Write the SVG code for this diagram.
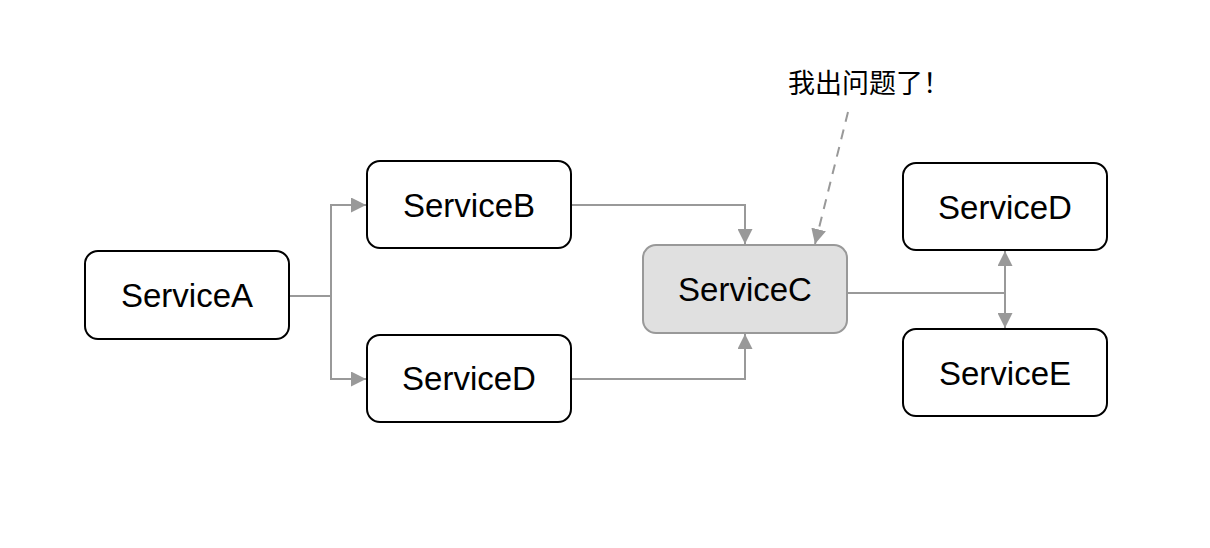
<svg xmlns="http://www.w3.org/2000/svg" width="1210" height="548" viewBox="0 0 1210 548">
<style>
.node{fill:#fff;stroke:#000;stroke-width:2}
.hl{fill:#e0e0e0;stroke:#999;stroke-width:2}
.lbl{font-family:"Liberation Sans",Arial,sans-serif;font-size:33px;fill:#000;text-anchor:middle;dominant-baseline:central}
.conn{fill:none;stroke:#999;stroke-width:2}
.dash{stroke-dasharray:10 8}
.note{font-family:"Noto Sans CJK SC","Liberation Sans",sans-serif;font-size:27px;font-weight:400;fill:#000}
</style>
<defs>
<marker id="arr" viewBox="0 0 15 15" refX="15" refY="7.5" markerWidth="15" markerHeight="15" markerUnits="userSpaceOnUse" orient="auto">
<path d="M0,0 L15,7.5 L0,15 Z" fill="#999"/>
</marker>
</defs>
<rect width="1210" height="548" fill="#fff"/>
<g id="connectors">
<path class="conn" d="M289,296 H331 V205 H366" marker-end="url(#arr)"/>
<path class="conn" d="M331,296 V379 H366" marker-end="url(#arr)"/>
<path class="conn" d="M571,205 H745 V244" marker-end="url(#arr)"/>
<path class="conn" d="M571,379 H745 V334" marker-end="url(#arr)"/>
<path class="conn" d="M847,293 H1005 V251" marker-end="url(#arr)"/>
<path class="conn" d="M1005,293 V328" marker-end="url(#arr)"/>
<path class="conn dash" d="M848,112 L815,244" marker-end="url(#arr)"/>
</g>
<g id="serviceA"><rect class="node" x="85" y="251" width="204" height="88" rx="13"/><text class="lbl" x="187" y="295">ServiceA</text></g>
<g id="serviceB"><rect class="node" x="367" y="161" width="204" height="87" rx="13"/><text class="lbl" x="469" y="205">ServiceB</text></g>
<g id="serviceD1"><rect class="node" x="367" y="335" width="204" height="87" rx="13"/><text class="lbl" x="469" y="378">ServiceD</text></g>
<g id="serviceC"><rect class="hl" x="643" y="245" width="204" height="88" rx="13"/><text class="lbl" x="745" y="289">ServiceC</text></g>
<g id="serviceD2"><rect class="node" x="903" y="163" width="204" height="87" rx="13"/><text class="lbl" x="1005" y="207">ServiceD</text></g>
<g id="serviceE"><rect class="node" x="903" y="329" width="204" height="87" rx="13"/><text class="lbl" x="1005" y="373">ServiceE</text></g>
<g id="note"><text class="note" x="788" y="93">我出问题了！</text></g>
</svg>
